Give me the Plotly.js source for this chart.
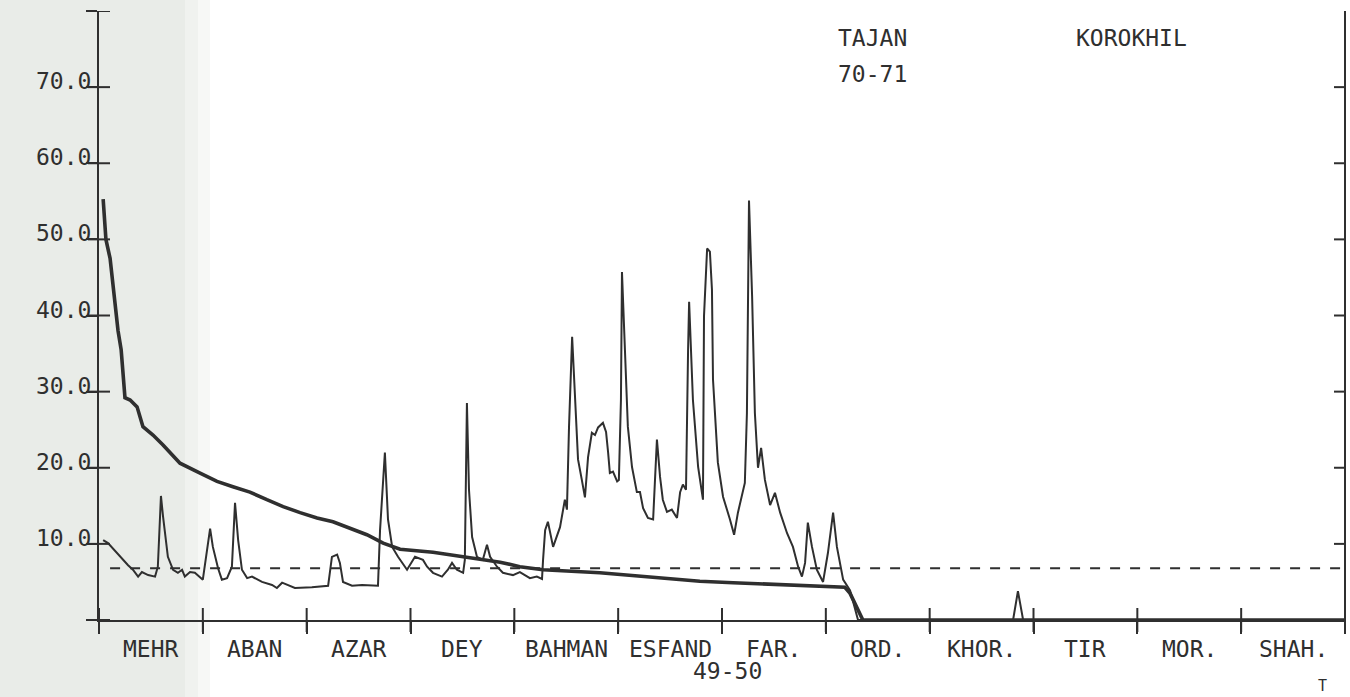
<!DOCTYPE html>
<html>
<head>
<meta charset="utf-8">
<script src="https://cdn.plot.ly/plotly-3.0.1.min.js"></script>
<style>
  html, body { margin: 0; padding: 0; background: #ffffff; }
  #chart { width: 1350px; height: 697px; }
</style>
</head>
<body>
<div id="chart"></div>
<script>
// ---- Data (x in days from start of Mehr, 30 days per month; y in m3/s) ----
const monthNames = ["MEHR", "ABAN", "AZAR", "DEY", "BAHMAN", "ESFAND", "FAR.", "ORD.", "KHOR.", "TIR", "MOR.", "SHAH."];
const monthEdges = [0, 30, 60, 90, 120, 150, 180, 210, 240, 270, 300, 330, 360];
const monthCentres = [15, 45, 75, 105, 135, 165, 195, 225, 255, 285, 315, 345];

const yTickVals = [0, 10, 20, 30, 40, 50, 60, 70, 80];
const yTickText = ["", "10.0", "20.0", "30.0", "40.0", "50.0", "60.0", "70.0", ""];
const rightTickVals = [10, 20, 30, 40, 50, 60, 70];

// Daily discharge hydrograph (thin line)
const flowDay = [1.2, 2.6, 8.4, 9.8, 11.3, 12.4, 14.2, 16.2, 17.0, 17.9, 18.5, 19.9, 21.4, 22.8, 24.0, 24.8, 26.3, 27.7,
  30.0, 31.2, 32.1, 32.9, 34.4, 35.5, 37.0, 38.4, 39.3, 40.2, 41.3, 42.8, 44.2, 47.1, 50.0, 51.4, 52.9, 56.6,
  61.5, 66.2, 67.3, 68.8, 69.6, 70.5, 73.1, 76.0, 80.6, 81.2, 82.6, 83.5, 84.7, 86.4, 89.0, 91.3, 93.6,
  94.8, 96.5, 99.1, 100.8, 102.0, 103.4, 105.2, 105.7, 106.3, 106.9, 107.8, 109.2, 110.9, 112.1, 113.0,
  115.0, 116.7, 119.6, 121.6, 123.1, 124.5, 126.5, 128.0, 128.3, 128.9, 129.7, 131.2, 133.2, 134.6, 135.2,
  135.8, 136.7, 137.5, 138.4, 139.5, 140.4, 141.3, 142.4, 143.3, 144.2, 145.6, 146.5, 147.1, 147.6, 148.5,
  149.7, 150.2, 150.8, 151.1, 152.0, 152.8, 154.0, 155.4, 156.3, 157.2, 158.6, 160.1, 160.6, 161.2, 162.1,
  162.9, 164.1, 165.5, 167.0, 167.9, 168.7, 169.6, 170.2, 170.5, 171.6, 173.1, 174.5, 174.8, 175.7, 176.5,
  177.1, 177.4, 178.8, 180.3, 182.3, 183.5, 184.6, 185.8, 186.6, 187.2, 187.8, 188.7, 189.5, 190.4, 191.3,
  192.4, 193.9, 195.3, 196.8, 198.8, 200.5, 202.0, 203.1, 204.0, 204.8, 206.0, 207.4, 209.2, 210.6, 212.1,
  213.2, 215.0, 217.0, 219.3, 264.1, 265.5, 267.0, 360];
const flowValue = [10.5, 10.1, 7.2, 6.6, 5.7, 6.3, 5.9, 5.7, 7.0, 16.3, 13.6, 8.3, 6.6, 6.2, 6.6, 5.7, 6.3, 6.2,
  5.3, 8.8, 12.0, 9.6, 6.8, 5.3, 5.5, 7.0, 15.4, 10.5, 6.6, 5.5, 5.7, 5.0, 4.6, 4.2, 4.9, 4.2,
  4.3, 4.5, 8.3, 8.6, 7.5, 5.0, 4.5, 4.6, 4.5, 11.8, 22.0, 13.2, 9.6, 8.3, 6.6, 8.3, 7.9,
  7.0, 6.2, 5.7, 6.6, 7.5, 6.6, 6.2, 7.9, 28.5, 17.1, 10.9, 8.3, 7.9, 9.9, 8.3,
  7.0, 6.2, 5.9, 6.3, 5.9, 5.5, 5.7, 5.4, 7.9, 11.8, 12.9, 9.6, 12.2, 15.8, 14.5,
  25.4, 37.2, 29.3, 21.1, 18.4, 16.1, 21.4, 24.6, 24.3, 25.3, 25.9, 24.7, 22.0, 19.3, 19.5,
  18.2, 18.4, 28.9, 45.7, 35.5, 25.4, 20.1, 16.8, 16.8, 14.7, 13.4, 13.2, 18.0, 23.7, 18.8,
  15.8, 14.2, 14.5, 13.4, 16.8, 17.8, 17.1, 35.5, 41.8, 28.9, 20.1, 15.8, 39.9, 48.8, 48.4,
  43.4, 31.6, 20.7, 16.2, 13.2, 11.2, 14.1, 16.7, 18.0, 27.2, 55.1, 42.5, 27.2, 20.0, 22.6,
  18.4, 15.1, 16.7, 14.1, 11.4, 9.6, 7.0, 5.7, 7.5, 12.8, 9.6, 6.6, 5.0, 8.8, 14.1,
  9.6, 5.3, 3.9, 0, 0, 3.8, 0, 0];

// Flow-duration curve (thick line)
const durDay = [1.2, 2.0, 3.2, 4.3, 5.5, 6.4, 7.5, 9.0, 11.0, 12.7, 15.6, 18.5, 23.4, 29.2, 34.1, 38.7, 43.6,
  48.5, 53.2, 58.1, 63.0, 67.6, 72.5, 77.4, 82.1, 87.0, 96.5, 106.3, 115.9, 121.6, 128.3, 144.7, 154.3,
  164.1, 173.6, 183.2, 193.0, 202.5, 215.5, 217.0, 219.3, 220.7, 360];
const durValue = [55.3, 50.0, 47.5, 43.0, 38.0, 35.5, 29.2, 28.9, 28.0, 25.4, 24.3, 23.0, 20.6, 19.3, 18.2, 17.5, 16.8,
  15.8, 14.9, 14.1, 13.4, 12.9, 12.1, 11.2, 10.1, 9.3, 8.9, 8.3, 7.6, 7.0, 6.6, 6.2, 5.8,
  5.5, 5.1, 4.9, 4.7, 4.5, 4.3, 3.5, 1.3, 0, 0];

// Mean discharge (dashed line)
const meanDay = [3.2, 360];
const meanValue = [6.8, 6.8];

const INK = "#2f2f2f";
const FONT = "DejaVu Sans Mono";

const traces = [
  { x: meanDay, y: meanValue, type: "scatter", mode: "lines",
    line: { color: INK, width: 2, dash: "10px,10px" }, hoverinfo: "skip" },
  { x: durDay, y: durValue, type: "scatter", mode: "lines",
    line: { color: INK, width: 3.6 }, hoverinfo: "skip" },
  { x: flowDay, y: flowValue, type: "scatter", mode: "lines",
    line: { color: INK, width: 2 }, hoverinfo: "skip" }
];

const L = 99, R = 5, T = 11, B = 77;
const W = 1350 - L - R, H = 697 - T - B;
function px2paperX(px) { return (px - L) / W; }
function px2paperY(py) { return (697 - B - py) / H; }

// full crossing tick marks drawn as shapes (12 px each side on x, 11 px on y)
const X_TICK = 12 / H;
const Y_TICK = 11 / W;
const tickShapes = [];
monthEdges.forEach(v => tickShapes.push({
  type: "line", xref: "x", yref: "paper", layer: "above",
  x0: v, x1: v, y0: -X_TICK, y1: X_TICK, line: { color: INK, width: 2 }
}));
yTickVals.forEach(v => tickShapes.push({
  type: "line", yref: "y", xref: "paper", layer: "above",
  y0: v, y1: v, x0: -Y_TICK, x1: Y_TICK, line: { color: INK, width: 2 }
}));
// right-hand axis line with inward ticks
tickShapes.push({
  type: "line", xref: "paper", yref: "paper",
  x0: 1, x1: 1, y0: -X_TICK, y1: 1, line: { color: INK, width: 2 }
});
rightTickVals.forEach(v => tickShapes.push({
  type: "line", yref: "y", xref: "paper",
  y0: v, y1: v, x0: 1 - Y_TICK, x1: 1, line: { color: INK, width: 2 }
}));

const background = [
  { type: "rect", xref: "paper", yref: "paper", layer: "below",
    x0: px2paperX(0), x1: px2paperX(185), y0: px2paperY(697), y1: px2paperY(0),
    fillcolor: "#e9ece8", line: { width: 0 } },
  { type: "rect", xref: "paper", yref: "paper", layer: "below",
    x0: px2paperX(185), x1: px2paperX(198), y0: px2paperY(697), y1: px2paperY(0),
    fillcolor: "#f0f2ef", line: { width: 0 } },
  { type: "rect", xref: "paper", yref: "paper", layer: "below",
    x0: px2paperX(198), x1: px2paperX(210), y0: px2paperY(697), y1: px2paperY(0),
    fillcolor: "#f7f8f6", line: { width: 0 } }
];

const monthAnnotations = monthNames.map((name, i) => ({
  text: name, xref: "x", yref: "paper", x: monthCentres[i], y: px2paperY(649),
  xanchor: "center", yanchor: "middle", showarrow: false,
  font: { family: FONT, size: 23, color: INK }
}));

const layout = {
  width: 1350, height: 697,
  margin: { l: L, r: R, t: T, b: B, pad: 0 },
  paper_bgcolor: "#ffffff",
  plot_bgcolor: "rgba(0,0,0,0)",
  showlegend: false,
  font: { family: FONT, color: INK, size: 22 },
  xaxis: {
    range: [0, 360], tickvals: monthEdges, ticktext: monthEdges.map(() => ""),
    ticks: "outside", ticklen: 12, tickwidth: 2, tickcolor: INK,
    showline: true, linewidth: 2, linecolor: INK,
    showgrid: false, zeroline: false, fixedrange: true
  },
  yaxis: {
    range: [0, 80], tickvals: yTickVals, ticktext: yTickText,
    ticks: "outside", ticklen: 11, tickwidth: 2, tickcolor: INK,
    ticklabelstandoff: -10, ticklabelshift: -6,
    tickfont: { family: FONT, size: 23, color: INK },
    showline: true, linewidth: 2, linecolor: INK,
    showgrid: false, zeroline: false, fixedrange: true
  },
  shapes: background.concat(tickShapes),
  annotations: monthAnnotations.concat([
    { text: "TAJAN", xref: "paper", yref: "paper", x: px2paperX(836), y: px2paperY(38),
      xanchor: "left", yanchor: "middle", showarrow: false,
      font: { family: FONT, size: 23, color: INK } },
    { text: "70-71", xref: "paper", yref: "paper", x: px2paperX(836), y: px2paperY(74),
      xanchor: "left", yanchor: "middle", showarrow: false,
      font: { family: FONT, size: 23, color: INK } },
    { text: "KOROKHIL", xref: "paper", yref: "paper", x: px2paperX(1074), y: px2paperY(38),
      xanchor: "left", yanchor: "middle", showarrow: false,
      font: { family: FONT, size: 23, color: INK } },
    { text: "49-50", xref: "x", yref: "paper", x: 181.5, y: px2paperY(671),
      xanchor: "center", yanchor: "middle", showarrow: false,
      font: { family: FONT, size: 23, color: INK } },
    { text: "T", xref: "paper", yref: "paper", x: px2paperX(1322), y: px2paperY(686),
      xanchor: "center", yanchor: "middle", showarrow: false,
      font: { family: FONT, size: 15, color: INK } }
  ])
};

Plotly.newPlot("chart", traces, layout, { staticPlot: true, displayModeBar: false });
</script>
</body>
</html>
